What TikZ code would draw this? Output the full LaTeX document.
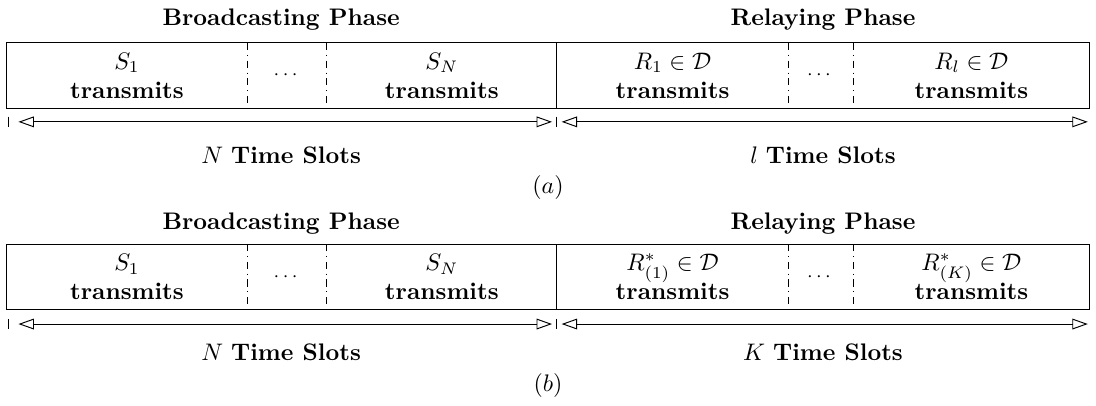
\documentclass[tikz,border=0pt]{standalone}
\usepackage{amsmath,amssymb}
\usepackage{tikz}
\usetikzlibrary{arrows.meta, positioning}

\begin{document}
\begin{tikzpicture}[
    cell/.style={rectangle, minimum height=0.96cm, inner sep=0pt, outer sep=0pt, align=center},
    phase/.style={font=\bfseries},
    sep/.style={dash dot, thin},
    span/.style={{Triangle[open, length=6.5pt, width=4.5pt]}-{Triangle[open, length=6.5pt, width=4.5pt]}, thin}
]
\useasboundingbox (0,0) rectangle (16.10,-5.95);

% (a)
\node[phase] (bca) at (4.13,-0.29) {Broadcasting Phase};
\node[phase] (rla) at (12.09,-0.29) {Relaying Phase};

\node[cell, minimum width=3.55cm] (s1a) at (1.865,-1.11) {$S_1$\\\textbf{transmits}};
\node[cell, minimum width=1.16cm, right=0pt of s1a] (dsa) {\footnotesize$\cdots$};
\node[cell, minimum width=3.38cm, right=0pt of dsa] (sna) {$S_N$\\\textbf{transmits}};
\node[cell, minimum width=3.40cm, right=0pt of sna] (r1a) {$R_1 \in \mathcal{D}$\\\textbf{transmits}};
\node[cell, minimum width=0.95cm, right=0pt of r1a] (dra) {\footnotesize$\cdots$};
\node[cell, minimum width=3.48cm, right=0pt of dra] (rna) {$R_l \in \mathcal{D}$\\\textbf{transmits}};

\draw (s1a.north west) rectangle (rna.south east);
\draw (sna.north east) -- (sna.south east);
\draw[sep] (s1a.north east) -- (s1a.south east);
\draw[sep] (dsa.north east) -- (dsa.south east);
\draw[sep] (r1a.north east) -- (r1a.south east);
\draw[sep] (dra.north east) -- (dra.south east);

\coordinate (ta0) at (0.13,-1.79);
\coordinate (ta1) at (8.18,-1.79);
\coordinate (ta2) at (15.98,-1.79);
\draw ([yshift=2.2pt]ta0) -- ([yshift=-2.2pt]ta0);
\draw ([yshift=2.2pt]ta1) -- ([yshift=-2.2pt]ta1);
\draw[span] ([xshift=4pt]ta0) -- ([xshift=-2pt]ta1);
\draw[span] ([xshift=2pt]ta1) -- (ta2);

\node (tsa) at (4.13,-2.28) {$N$ \textbf{Time Slots}};
\node (lsa) at (12.09,-2.28) {$l$ \textbf{Time Slots}};
\node (capa) at (8.05,-2.76) {$(a)$};

% (b)
\node[phase] (bcb) at (4.13,-3.29) {Broadcasting Phase};
\node[phase] (rlb) at (12.09,-3.29) {Relaying Phase};

\node[cell, minimum width=3.55cm] (s1b) at (1.865,-4.065) {$S_1$\\\textbf{transmits}};
\node[cell, minimum width=1.16cm, right=0pt of s1b] (dsb) {\footnotesize$\cdots$};
\node[cell, minimum width=3.38cm, right=0pt of dsb] (snb) {$S_N$\\\textbf{transmits}};
\node[cell, minimum width=3.40cm, right=0pt of snb] (r1b) {$R^*_{(1)} \in \mathcal{D}$\\\textbf{transmits}};
\node[cell, minimum width=0.95cm, right=0pt of r1b] (drb) {\footnotesize$\cdots$};
\node[cell, minimum width=3.48cm, right=0pt of drb] (rnb) {$R^*_{(K)} \in \mathcal{D}$\\\textbf{transmits}};

\draw (s1b.north west) rectangle (rnb.south east);
\draw (snb.north east) -- (snb.south east);
\draw[sep] (s1b.north east) -- (s1b.south east);
\draw[sep] (dsb.north east) -- (dsb.south east);
\draw[sep] (r1b.north east) -- (r1b.south east);
\draw[sep] (drb.north east) -- (drb.south east);

\coordinate (tb0) at (0.13,-4.76);
\coordinate (tb1) at (8.18,-4.76);
\coordinate (tb2) at (15.98,-4.76);
\draw ([yshift=2.2pt]tb0) -- ([yshift=-2.2pt]tb0);
\draw ([yshift=2.2pt]tb1) -- ([yshift=-2.2pt]tb1);
\draw[span] ([xshift=4pt]tb0) -- ([xshift=-2pt]tb1);
\draw[span] ([xshift=2pt]tb1) -- (tb2);

\node (tsb) at (4.13,-5.17) {$N$ \textbf{Time Slots}};
\node (ksb) at (12.09,-5.17) {$K$ \textbf{Time Slots}};
\node (capb) at (8.05,-5.66) {$(b)$};
\end{tikzpicture}
\end{document}
